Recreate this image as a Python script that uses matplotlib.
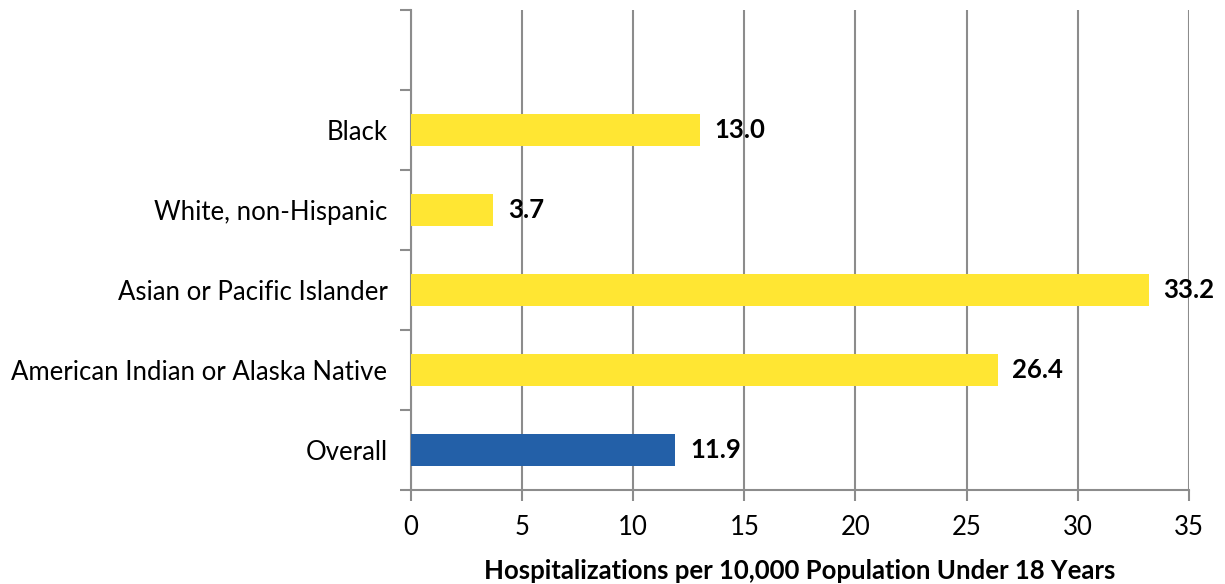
import matplotlib
matplotlib.use("Agg")
import matplotlib.pyplot as plt

categories = ["Overall", "American Indian or Alaska Native", "Asian or Pacific Islander",
              "White, non-Hispanic", "Black"]
values = [11.9, 26.4, 33.2, 3.7, 13.0]
colors = ["#2360A8", "#FFE633", "#FFE633", "#FFE633", "#FFE633"]
xticks = [0, 5, 10, 15, 20, 25, 30, 35]

plt.rcParams['font.family'] = ['Lato', 'DejaVu Sans']
fs = 18.5

fig = plt.figure(figsize=(12.25, 5.84), dpi=100)
ax = fig.add_axes([0.3355, 0.161, 0.635, 0.822])

pos = list(range(len(categories)))
ax.barh(pos, values, height=0.4, color=colors, zorder=3)
for p, v in zip(pos, values):
    ax.text(v + 0.65, p, f"{v:.1f}", va="center", ha="left", fontsize=fs,
            fontweight="bold", zorder=4)

ax.set_xlim(0, 35)
ax.set_ylim(-0.5, len(categories) + 0.5)
ax.set_xticks(xticks)
ax.set_yticks(pos)
ax.set_yticklabels(categories)
ax.set_yticks([p - 0.5 for p in range(len(categories) + 2)], minor=True)

ax.grid(axis="x", color="#8c8c8c", linewidth=1.5, zorder=0)
for s in ["top", "right"]:
    ax.spines[s].set_visible(False)
for s in ["left", "bottom"]:
    ax.spines[s].set_color("#8c8c8c")
    ax.spines[s].set_linewidth(1.5)

ax.tick_params(axis="y", which="major", length=0, labelsize=fs, pad=17)
ax.tick_params(axis="y", which="minor", length=8, width=1.5, color="#8c8c8c")
ax.tick_params(axis="x", length=8, width=1.5, color="#8c8c8c", labelsize=fs, pad=10)

ax.set_xlabel("Hospitalizations per 10,000 Population Under 18 Years",
              fontsize=fs, fontweight="bold", labelpad=14)

fig.savefig("out.png", dpi=100)
